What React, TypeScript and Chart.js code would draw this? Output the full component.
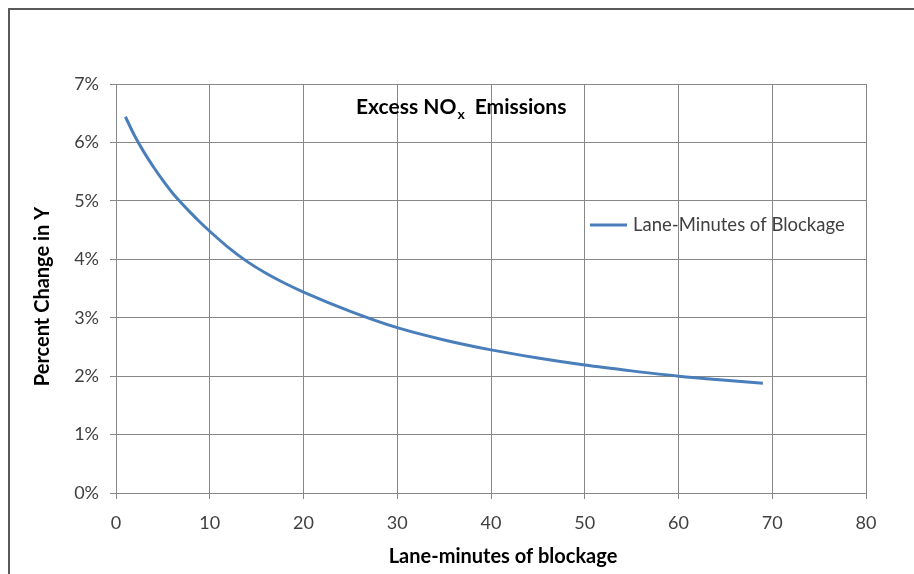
import React, { useEffect, useRef } from "react";
import { Chart, registerables } from "chart.js";

Chart.register(...registerables);

const xValues = [1, 2, 3, 4, 5, 6, 7, 8, 9, 10, 12, 14, 16, 18, 20, 25, 30, 35, 40, 45, 50, 55, 60, 65, 69];
const yValues = [6.44, 6.11, 5.83, 5.58, 5.35, 5.14, 4.96, 4.79, 4.63, 4.48, 4.20, 3.96, 3.76, 3.59, 3.44, 3.11, 2.83, 2.62, 2.45, 2.31, 2.19, 2.09, 2.00, 1.93, 1.88];
const seriesLabel = "Lane-Minutes of Blockage";
const chartTitleMain = "Excess NO";
const chartTitleSub = "x";
const chartTitleRest = "Emissions";
const xAxisTitle = "Lane-minutes of blockage";
const yAxisTitle = "Percent Change in Y";

const FONT = "Lato, 'Liberation Sans', sans-serif";
const LINE_COLOR = "#4a7ebb";
const GRID = "#878787";
const TICK_COLOR = "#404040";

const overlayPlugin = {
  id: "overlay",
  afterDraw(chart: any) {
    const { ctx, chartArea } = chart;
    const w = chartArea.right - chartArea.left;
    const h = chartArea.bottom - chartArea.top;
    const cx = (chartArea.left + chartArea.right) / 2;
    const cy = (chartArea.top + chartArea.bottom) / 2;
    ctx.save();
    ctx.fillStyle = "#000";
    ctx.textBaseline = "middle";
    ctx.textAlign = "left";
    // chart title
    let x = chartArea.left + 0.32 * w;
    const y = chartArea.top + 23;
    ctx.font = `bold 21px ${FONT}`;
    ctx.fillText(chartTitleMain, x, y);
    x += ctx.measureText(chartTitleMain).width;
    ctx.font = `bold 14px ${FONT}`;
    ctx.fillText(chartTitleSub, x + 1, y + 7);
    x += ctx.measureText(chartTitleSub).width + 11;
    ctx.font = `bold 21px ${FONT}`;
    ctx.fillText(chartTitleRest, x, y);
    // axis titles
    ctx.textAlign = "center";
    ctx.font = `bold 20px ${FONT}`;
    ctx.fillText(xAxisTitle, cx + 12, chartArea.bottom + 64);
    ctx.save();
    ctx.translate(chartArea.left - 73, cy + 8);
    ctx.rotate(-Math.PI / 2);
    ctx.fillText(yAxisTitle, 0, 0);
    ctx.restore();
    // legend
    ctx.textAlign = "left";
    const lx = chartArea.left + 0.632 * w;
    const ly = chartArea.top + 0.345 * h;
    ctx.strokeStyle = LINE_COLOR;
    ctx.lineWidth = 3;
    ctx.beginPath();
    ctx.moveTo(lx, ly);
    ctx.lineTo(lx + 37, ly);
    ctx.stroke();
    ctx.font = `18.5px ${FONT}`;
    ctx.fillStyle = TICK_COLOR;
    ctx.fillText(seriesLabel, lx + 43, ly);
    ctx.restore();
  },
};

export default function App() {
  const ref = useRef<HTMLCanvasElement>(null);
  useEffect(() => {
    if (!ref.current) return;
    const chart = new Chart(ref.current, {
      type: "line",
      data: {
        datasets: [
          {
            label: seriesLabel,
            data: xValues.map((x, i) => ({ x, y: yValues[i] })),
            borderColor: LINE_COLOR,
            borderWidth: 3,
            pointRadius: 0,
            cubicInterpolationMode: "monotone",
            fill: false,
          },
        ],
      },
      plugins: [overlayPlugin],
      options: {
        animation: false,
        responsive: false,
        layout: { padding: { left: 18, right: 48, top: 74, bottom: 5 } },
        plugins: { legend: { display: false }, tooltip: { enabled: false }, title: { display: false } },
        scales: {
          x: {
            type: "linear",
            min: 0,
            max: 80,
            ticks: { stepSize: 10, color: TICK_COLOR, font: { family: FONT, size: 18 }, padding: 13 },
            grid: { color: GRID, lineWidth: 1, tickLength: 6, drawTicks: true },
            border: { color: GRID },
            afterFit(scale: any) { scale.height = 76; },
          },
          y: {
            min: 0,
            max: 7,
            ticks: { stepSize: 1, color: TICK_COLOR, font: { family: FONT, size: 18 }, padding: 11, callback: (v: any) => `${v}%` },
            grid: { color: GRID, lineWidth: 1, tickLength: 6, drawTicks: true },
            border: { color: GRID },
            afterFit(scale: any) { scale.width = 88; },
          },
        },
      } as any,
    });
    return () => chart.destroy();
  }, []);
  return (
    <div
      style={{
        position: "fixed",
        left: 8,
        top: 8,
        width: 906,
        height: 566,
        boxSizing: "border-box",
        borderLeft: "2px solid #5a5a5a",
        borderTop: "2px solid #5a5a5a",
        background: "#fff",
        overflow: "hidden",
      }}
    >
      <canvas ref={ref} width={904} height={564} style={{ display: "block" }} />
    </div>
  );
}
